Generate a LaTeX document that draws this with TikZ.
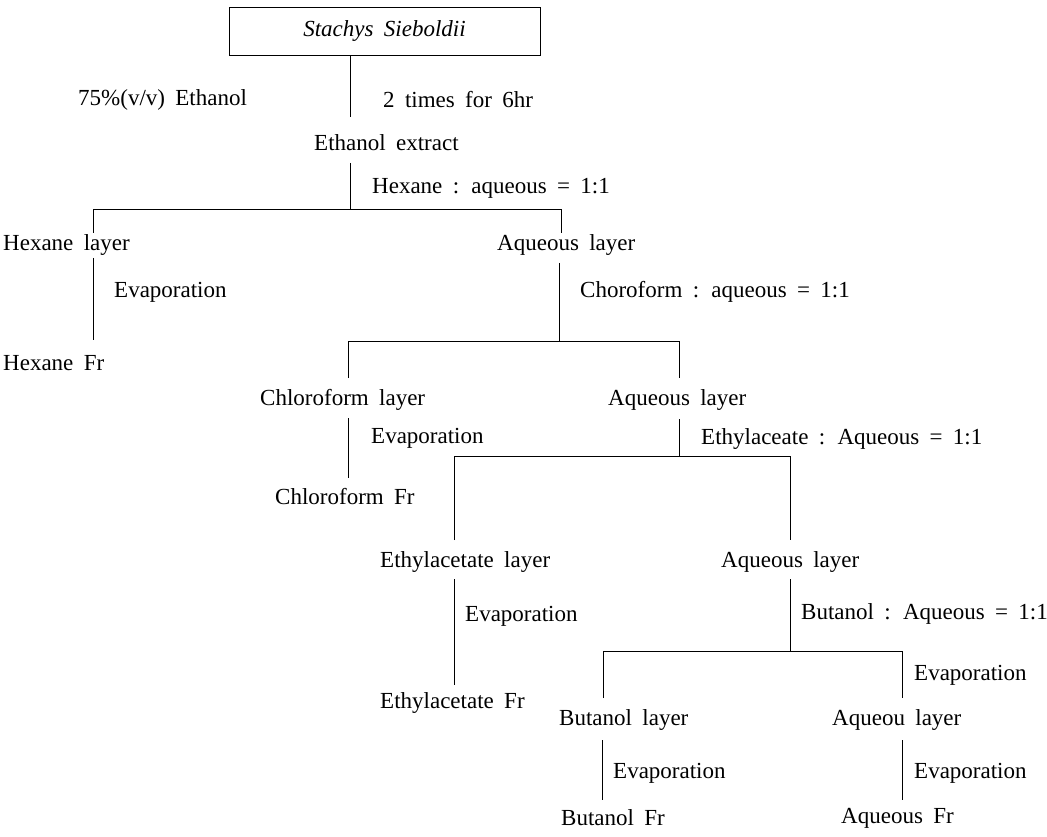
\documentclass[tikz,border=0pt]{standalone}
\usepackage{fontspec}
\setmainfont{Liberation Serif}[WordSpace=1.8]
\begin{document}
\begin{tikzpicture}[x=1pt,y=-1pt,
  lbl/.style={anchor=west, inner sep=0pt, font=\fontsize{23}{27}\selectfont},
  ln/.style={line width=0.8pt, black}]
\useasboundingbox (0,0) rectangle (1047,837);
% title box
\node[draw, line width=0.8pt, minimum width=311pt, minimum height=48pt, inner sep=0pt,
      font=\fontsize{23}{27}\selectfont\itshape] (box) at (384.5,31) {Stachys Sieboldii};
\node[lbl] (etoh) at (78,100) {75\%(v/v) Ethanol};
\node[lbl] (times) at (383,100) {2 times for 6hr};
\node[lbl] (ext) at (314,143) {Ethanol extract};
\node[lbl] (hexr) at (372,188) {Hexane : aqueous = 1:1};
\node[lbl] (hexl) at (3,245) {Hexane layer};
\node[lbl] (aq1) at (497,245) {Aqueous layer};
\node[lbl] (ev1) at (114,292) {Evaporation};
\node[lbl] (chr) at (580,292) {Choroform : aqueous = 1:1};
\node[lbl] (hexf) at (3,363) {Hexane Fr};
\node[lbl] (chl) at (260,400) {Chloroform layer};
\node[lbl] (aq2) at (608,400) {Aqueous layer};
\node[lbl] (ev2) at (371,438) {Evaporation};
\node[lbl] (etr) at (701,439) {Ethylaceate : Aqueous = 1:1};
\node[lbl] (chlf) at (275,497) {Chloroform Fr};
\node[lbl] (eal) at (380,562) {Ethylacetate layer};
\node[lbl] (aq3) at (721,562) {Aqueous layer};
\node[lbl] (ev3) at (465,616) {Evaporation};
\node[lbl] (bur) at (801,614) {Butanol : Aqueous = 1:1};
\node[lbl] (ev4) at (914,675) {Evaporation};
\node[lbl] (eaf) at (380,703) {Ethylacetate Fr};
\node[lbl] (bul) at (559,720) {Butanol layer};
\node[lbl] (aql) at (832,720) {Aqueou layer};
\node[lbl] (ev5) at (613,773) {Evaporation};
\node[lbl] (ev6) at (914,773) {Evaporation};
\node[lbl] (buf) at (561,818) {Butanol Fr};
\node[lbl] (aqf) at (841,818) {Aqueous Fr};
% junction coordinates
\coordinate (c0) at (350,117);
\coordinate (c1t) at (350,163);
\coordinate (b1) at (350,209);
\coordinate (b1l) at (93,209);
\coordinate (b1r) at (561,209);
\coordinate (d1l) at (93,233);
\coordinate (d1r) at (561,233);
\coordinate (h1t) at (93,258);
\coordinate (h1b) at (93,340);
\coordinate (a1t) at (559,263);
\coordinate (b2) at (559,341);
\coordinate (b2l) at (348,341);
\coordinate (b2r) at (679,341);
\coordinate (d2l) at (348,378);
\coordinate (d2r) at (679,378);
\coordinate (c2t) at (348,418);
\coordinate (c2b) at (348,478);
\coordinate (a2t) at (679,419);
\coordinate (b3) at (679,456);
\coordinate (b3l) at (454,456);
\coordinate (b3r) at (790,456);
\coordinate (d3l) at (454,540);
\coordinate (d3r) at (790,540);
\coordinate (e3t) at (454,579);
\coordinate (e3b) at (454,685);
\coordinate (a3t) at (790,579);
\coordinate (b4) at (790,651);
\coordinate (b4l) at (603,651);
\coordinate (b4r) at (902,651);
\coordinate (d4l) at (603,698);
\coordinate (d4r) at (902,698);
\coordinate (u5t) at (602,740);
\coordinate (u5b) at (602,800);
\coordinate (q5t) at (902,740);
\coordinate (q5b) at (902,800);
% connectors
\draw[ln] (box.south -| c0) -- (c0);
\draw[ln] (c1t) -- (b1);
\draw[ln] (d1l) -- (b1l) -- (b1r) -- (d1r);
\draw[ln] (h1t) -- (h1b);
\draw[ln] (a1t) -- (b2);
\draw[ln] (d2l) -- (b2l) -- (b2r) -- (d2r);
\draw[ln] (c2t) -- (c2b);
\draw[ln] (a2t) -- (b3);
\draw[ln] (d3l) -- (b3l) -- (b3r) -- (d3r);
\draw[ln] (e3t) -- (e3b);
\draw[ln] (a3t) -- (b4);
\draw[ln] (d4l) -- (b4l) -- (b4r) -- (d4r);
\draw[ln] (u5t) -- (u5b);
\draw[ln] (q5t) -- (q5b);
\end{tikzpicture}
\end{document}
